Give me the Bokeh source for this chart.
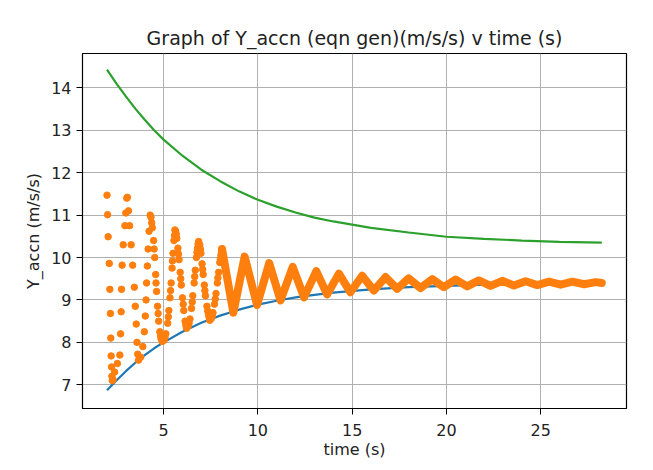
from bokeh.plotting import figure
from bokeh.models import Range1d, FixedTicker
from bokeh.embed import file_html
from bokeh.resources import INLINE

# ---------------- data ----------------
blue_x = [2.0, 2.5, 3.0, 3.5, 4.0, 4.5, 5.0, 6.0, 7.0, 8.0, 9.0, 10.0, 11.0,
          12.0, 13.0, 14.0, 16.0, 18.0, 20.0, 22.0, 24.0, 26.0, 28.24]
blue_y = [6.87, 7.10, 7.32, 7.52, 7.70, 7.86, 8.00, 8.25, 8.46, 8.63, 8.77, 8.89, 8.98,
          9.06, 9.12, 9.17, 9.25, 9.30, 9.33, 9.36, 9.38, 9.39, 9.40]

green_x = [2.0, 2.5, 3.0, 3.5, 4.0, 4.5, 5.0, 6.0, 7.0, 8.0, 9.0, 10.0, 11.0,
           12.0, 13.0, 14.0, 16.0, 18.0, 20.0, 22.0, 24.0, 26.0, 28.24]
green_y = [14.43, 14.10, 13.80, 13.51, 13.25, 13.00, 12.78, 12.40, 12.07, 11.80, 11.56, 11.36, 11.20,
           11.06, 10.94, 10.85, 10.70, 10.59, 10.49, 10.44, 10.40, 10.37, 10.35]

# early, sparse samples of the orange series
dots_x = [2.00, 2.03, 2.06, 2.12, 2.15, 2.18, 2.20, 2.22, 2.24, 2.26, 2.28,
          2.32, 2.40, 2.55, 2.68, 2.72, 2.75, 2.77, 2.80, 2.86, 2.95, 3.00, 3.05,
          3.08, 3.14, 3.20, 3.28, 3.36, 3.45, 3.50, 3.55, 3.59, 3.63, 3.67,
          3.78, 3.90, 3.98, 4.03, 4.07, 4.10, 4.14, 4.18, 4.23, 4.29,
          4.33, 4.40, 4.47, 4.53, 4.58, 4.63, 4.68, 4.74, 4.80, 4.87, 4.93,
          4.37, 4.50, 4.60, 4.71, 4.84,
          5.02, 5.12, 5.22, 5.28, 5.34, 5.40, 5.45, 5.50, 5.55, 5.60,
          5.07, 5.25, 5.37, 5.47, 5.58,
          5.64, 5.70, 5.76, 5.82, 5.88, 5.94, 6.00, 6.07, 6.14, 6.22,
          5.67, 5.79, 5.91, 6.04, 6.18,
          6.30, 6.40, 6.48, 6.55, 6.62, 6.68, 6.74, 6.80, 6.86,
          6.35, 6.52, 6.65, 6.77, 6.83,
          6.92, 6.98, 7.04, 7.10, 7.16, 7.22, 7.30, 7.38, 7.45,
          6.95, 7.07, 7.19, 7.34, 7.42,
          7.53, 7.62, 7.70, 7.78, 7.85, 7.92, 7.98, 8.04, 8.10,
          7.58, 7.74, 7.88, 8.01, 8.07]
dots_y = [11.47, 11.01, 10.49, 9.86, 9.25, 8.68, 8.10, 7.68, 7.42, 7.20, 7.10,
          7.12, 7.30, 7.50, 7.70, 8.20, 8.72, 9.25, 9.82, 10.30, 10.75, 11.05, 11.40,
          11.42, 11.10, 10.75, 10.30, 9.82, 9.30, 8.85, 8.43, 8.00, 7.72, 7.58,
          7.65, 7.90, 8.25, 8.62, 9.00, 9.40, 9.80, 10.20, 10.62, 11.00,
          10.95, 10.70, 10.40, 10.00, 9.60, 9.20, 8.85, 8.50, 8.25, 8.08, 8.02,
          10.82, 10.20, 9.40, 8.68, 8.15,
          8.05, 8.20, 8.45, 8.75, 9.05, 9.40, 9.75, 10.10, 10.40, 10.65,
          8.12, 8.60, 9.22, 9.92, 10.52,
          10.62, 10.45, 10.22, 9.95, 9.65, 9.35, 9.05, 8.75, 8.50, 8.33,
          10.55, 10.08, 9.50, 8.90, 8.40,
          8.38, 8.55, 8.80, 9.10, 9.40, 9.70, 10.00, 10.22, 10.38,
          8.45, 8.95, 9.55, 10.12, 10.32,
          10.30, 10.10, 9.85, 9.60, 9.35, 9.10, 8.85, 8.65, 8.52,
          10.20, 9.72, 9.22, 8.74, 8.58,
          8.56, 8.70, 8.90, 9.15, 9.40, 9.65, 9.88, 10.05, 10.20,
          8.62, 9.02, 9.52, 9.96, 10.12]

# later, dense part of the orange series: peaks and troughs
band_x = [8.10, 8.70, 9.30, 9.96, 10.60, 11.20, 11.85, 12.45, 13.10, 13.67, 14.30, 14.91,
          15.53, 16.15, 16.77, 17.39, 18.00, 18.63, 19.25, 19.86, 20.48, 21.10, 21.72,
          22.34, 22.96, 23.58, 24.20, 24.82, 25.44, 26.06, 26.68, 27.30, 27.92, 28.24]
band_y = [10.20, 8.70, 10.02, 8.88, 9.87, 8.99, 9.78, 9.06, 9.68, 9.13, 9.62, 9.18,
          9.57, 9.22, 9.54, 9.26, 9.51, 9.28, 9.49, 9.30, 9.48, 9.32, 9.46,
          9.33, 9.45, 9.34, 9.44, 9.35, 9.43, 9.36, 9.43, 9.37, 9.42, 9.40]

x_ticks = [5, 10, 15, 20, 25]
y_ticks = [7, 8, 9, 10, 11, 12, 13, 14]

# ---------------- figure ----------------
FONT = "DejaVu Sans"
p = figure(width=645, height=462, output_backend="svg", toolbar_location=None,
           x_range=Range1d(0.70, 29.55), y_range=Range1d(6.44, 14.81),
           title="Graph of Y_accn (eqn gen)(m/s/s) v time (s)",
           x_axis_label="time (s)", y_axis_label="Y_accn (m/s/s)",
           min_border_left=82, min_border_right=19, min_border_top=53,
           min_border_bottom=54)

p.background_fill_color = "white"
p.border_fill_color = "white"
p.outline_line_color = "black"
p.outline_line_width = 1.2

p.title.text_font = FONT
p.title.text_font_size = "19px"
p.title.text_font_style = "normal"
p.title.text_color = "#222222"
p.title.align = "center"
p.title.standoff = 10

for ax in (p.xaxis[0], p.yaxis[0]):
    ax.major_label_text_font = FONT
    ax.major_label_text_font_size = "16px"
    ax.major_label_text_color = "#222222"
    ax.axis_label_text_font = FONT
    ax.axis_label_text_font_size = "16px"
    ax.axis_label_text_font_style = "normal"
    ax.axis_label_text_color = "#222222"
    ax.axis_line_color = "black"
    ax.major_tick_line_color = "black"
    ax.major_tick_in = 0
    ax.major_tick_out = 6
    ax.minor_tick_line_color = None

p.xaxis.ticker = FixedTicker(ticks=x_ticks)
p.yaxis.ticker = FixedTicker(ticks=y_ticks)
p.xaxis.major_label_standoff = 9
p.yaxis.major_label_standoff = 5
p.xaxis.axis_label_standoff = 1
p.yaxis.axis_label_standoff = 5

p.grid.grid_line_color = "#b0b0b0"
p.grid.grid_line_width = 1

p.line(blue_x, blue_y, line_color="#1f77b4", line_width=2.2)
p.scatter(dots_x, dots_y, size=6.5, fill_color="#ff7f0e", line_color="#ff7f0e")
p.line(band_x, band_y, line_color="#ff7f0e", line_width=8,
       line_join="round", line_cap="round")
p.line(green_x, green_y, line_color="#2ca02c", line_width=2.2)

open("out.html", "w").write(file_html(p, INLINE))
